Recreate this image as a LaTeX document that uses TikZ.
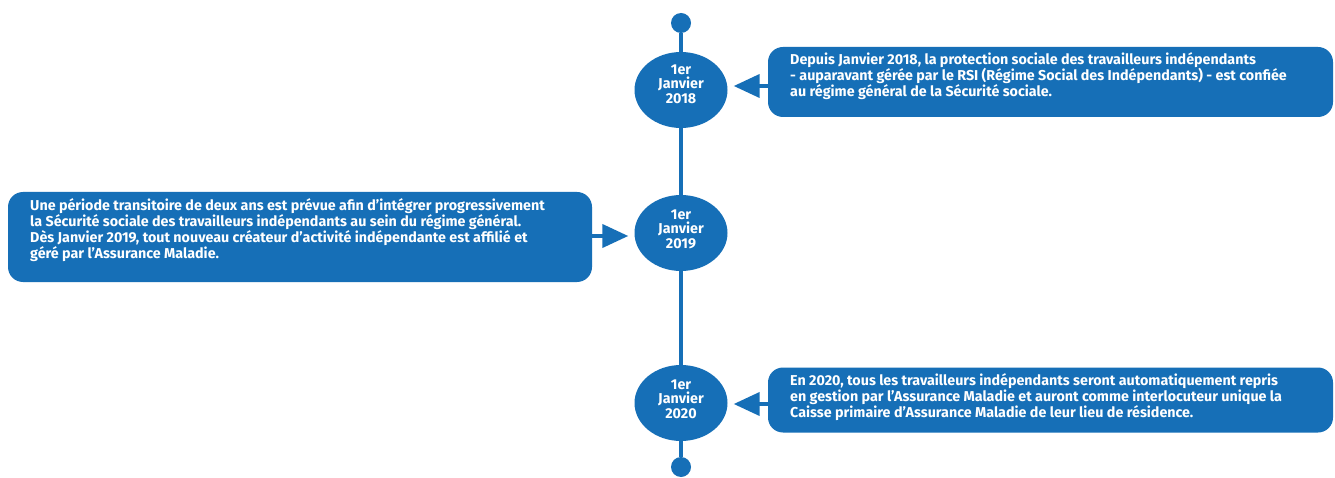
\documentclass[tikz,border=0pt]{standalone}
\usepackage{fontspec}
\setmainfont{Fira Sans}
\usetikzlibrary{arrows.meta,shapes.geometric,calc}
\definecolor{amblue}{RGB}{22,111,183}
\begin{document}
\begin{tikzpicture}[x=1pt,y=-1pt,
  txt/.style={font=\fontsize{14.3}{14.4}\selectfont\bfseries, text=white, inner sep=0pt},
  bubble/.style={fill=amblue, rounded corners=15pt, inner sep=0pt},
  btext/.style={txt, align=left, anchor=west},
  datebub/.style={ellipse, fill=amblue, minimum width=93pt, minimum height=76pt, inner sep=0pt},
  dtext/.style={txt, align=center},
  tldot/.style={circle, fill=amblue, minimum size=20pt, inner sep=0pt},
  axisline/.style={draw=amblue, line width=4pt},
  pointer/.style={draw=amblue, line width=4pt, -{Triangle[length=26pt,width=23pt]}, shorten >=6pt}]
\useasboundingbox (0,0) rectangle (1335,478);
\fill[white] (0,0) rectangle (1335,478);
\node[tldot] (d0) at (681,23) {};
\node[tldot] (d4) at (681,467) {};
\draw[axisline] (d0) -- (d4);
\node[datebub] (e1) at (681,90) {};
\node[datebub] (e2) at (681,233) {};
\node[datebub] (e3) at (681,403) {};
\node[dtext] (l1) at (681,84) {1er\\Janvier\\2018};
\node[dtext] (l2) at (681,229) {1er\\Janvier\\2019};
\node[dtext] (l3) at (681,399) {1er\\Janvier\\2020};
\node[bubble, minimum width=565pt, minimum height=70pt] (b1) at (1050.5,82) {};
\node[bubble, minimum width=584pt, minimum height=90pt] (b2) at (300,237) {};
\node[bubble, minimum width=565pt, minimum height=65pt] (b3) at (1050.5,400) {};
\node[btext] (t1) at (790,76)
  {Depuis Janvier 2018, la protection sociale des travailleurs indépendants\\
   - auparavant gérée par le RSI (Régime Social des Indépendants) - est confiée\\
   au régime général de la Sécurité sociale.};
\node[btext] (t2) at (30,230)
  {Une période transitoire de deux ans est prévue afin d’intégrer progressivement\\
   la Sécurité sociale des travailleurs indépendants au sein du régime général.\\
   Dès Janvier 2019, tout nouveau créateur d'activité indépendante est affilié et\\
   géré par l'Assurance Maladie.};
\node[btext] (t3) at (790,397)
  {En 2020, tous les travailleurs indépendants seront automatiquement repris\\
   en gestion par l'Assurance Maladie et auront comme interlocuteur unique la\\
   Caisse primaire d'Assurance Maladie de leur lieu de résidence.};
\coordinate (p1) at (b1.west |- 0,86);
\coordinate (p2) at (b2.east |- 0,236);
\coordinate (p3) at (b3.west |- 0,404);
\draw[pointer] (p1) -- (p1 -| e1.east);
\draw[pointer] (p2) -- (p2 -| e2.west);
\draw[pointer] (p3) -- (p3 -| e3.east);
\end{tikzpicture}
\end{document}
